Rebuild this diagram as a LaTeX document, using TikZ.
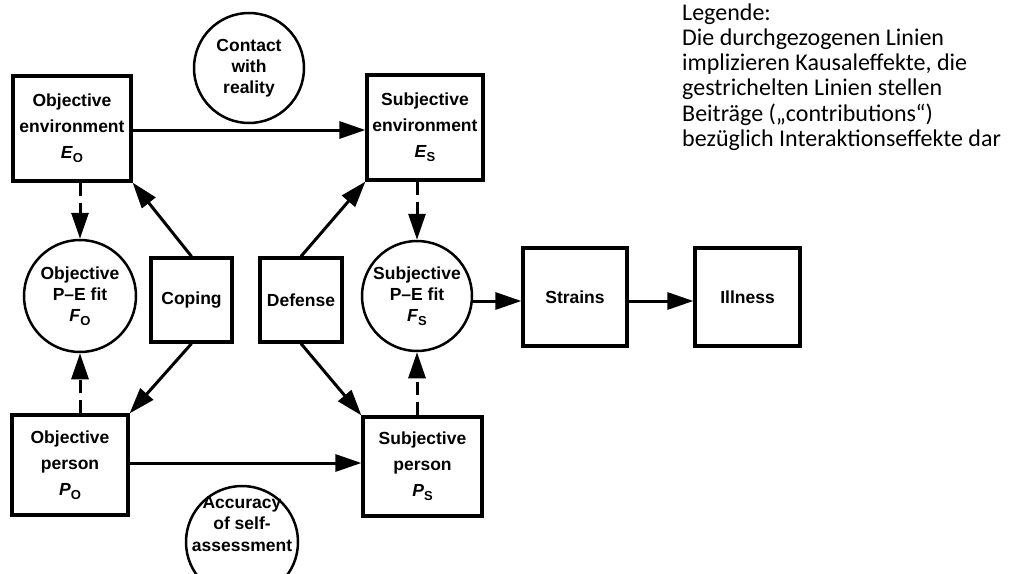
\documentclass[tikz,border=0pt]{standalone}
\usepackage{fontspec}
\setmainfont{Liberation Sans}
\newfontfamily\legfont{Carlito}
\usetikzlibrary{arrows.meta}
\newcommand{\subsc}[2]{\textbf{\textit{#1}}\raisebox{-4pt}{\fontsize{13}{13}\selectfont\bfseries #2}}
\begin{document}
\begin{tikzpicture}[x=1pt,y=-1pt,
  box/.style={draw, line width=3.2pt, inner sep=0pt, align=center,
    font=\fontsize{17.5}{26}\selectfont\bfseries},
  circ/.style={draw, circle, line width=2.5pt, minimum size=110pt, inner sep=0pt, align=center,
    font=\fontsize{17.5}{21}\selectfont\bfseries},
  arr/.style={line width=3pt, -{Triangle[length=26pt,width=17pt]}},
  darr/.style={arr, dash pattern=on 13pt off 7pt},
  leg/.style={anchor=base west, inner sep=0pt, font=\legfont\fontsize{24}{25}\selectfont}]
\useasboundingbox (0,0) rectangle (1009,573);
\clip (0,0) rectangle (1009,573);
% boxes
\node[box, minimum width=118pt, minimum height=105pt] (oenv) at (72,128.5)
  {Objective\\environment\\\subsc{E}{O}};
\node[box, minimum width=116pt, minimum height=105pt] (senv) at (425,127.5)
  {Subjective\\environment\\\subsc{E}{S}};
\node[box, minimum width=81pt, minimum height=84pt] (coping) at (191.5,300) {Coping};
\node[box, minimum width=82pt, minimum height=84pt] (defense) at (301,300) {Defense};
\node[box, minimum width=104pt, minimum height=98pt] (strains) at (575,297) {Strains};
\node[box, minimum width=105pt, minimum height=98pt] (illness) at (747.5,297) {Illness};
\node[box, minimum width=116pt, minimum height=100pt] (operson) at (70,465)
  {Objective\\person\\\subsc{P}{O}};
\node[box, minimum width=119pt, minimum height=99pt] (sperson) at (422.5,466.5)
  {Subjective\\person\\\subsc{P}{S}};
% circles
\node[circ] (contact) at (249,68) {Contact\\with\\reality};
\node[circ, minimum size=112pt] (ofit) at (80,296) {Objective\\P--E fit\\\subsc{F}{O}};
\node[circ] (sfit) at (417,296) {Subjective\\P--E fit\\\subsc{F}{S}};
\node[circ, minimum size=112pt] (acc) at (242,542) {};
\node[align=center, inner sep=0pt, font=\fontsize{17.5}{21.5}\selectfont\bfseries] (acctext) at (242,524)
  {Accuracy\\of self-\\assessment};
% solid arrows
\draw[arr] (oenv.east |- 0,130) -- (senv.west |- 0,130);
\draw[arr] (operson.east |- 0,463) -- (sperson.west |- 0,463);
\draw[arr] (coping.north) -- (oenv.south east);
\draw[arr] (defense.north) -- (senv.south west);
\draw[arr] (coping.south) -- (operson.north east);
\draw[arr] (defense.south) -- (sperson.north west);
\draw[arr] (sfit.east |- 0,301) -- (strains.west |- 0,301);
\draw[arr] (strains.east |- 0,301) -- (illness.west |- 0,301);
% dashed arrows
\draw[darr] (ofit.north |- oenv.south) -- (ofit.north);
\draw[darr] (sfit.north |- senv.south) -- (sfit.north);
\draw[darr] (ofit.south |- operson.north) -- (ofit.south);
\draw[darr] (sfit.south |- sperson.north) -- (sfit.south);
% legend
\node[leg] (l1) at (682,20) {Legende:};
\node[leg] (l2) at (682,45.3) {Die durchgezogenen Linien};
\node[leg] (l3) at (682,70.6) {implizieren Kausaleffekte, die};
\node[leg] (l4) at (682,95.9) {gestrichelten Linien stellen};
\node[leg] (l5) at (682,121.2) {Beiträge („contributions“)};
\node[leg] (l6) at (682,146.5) {bezüglich Interaktionseffekte dar};
\end{tikzpicture}
\end{document}
